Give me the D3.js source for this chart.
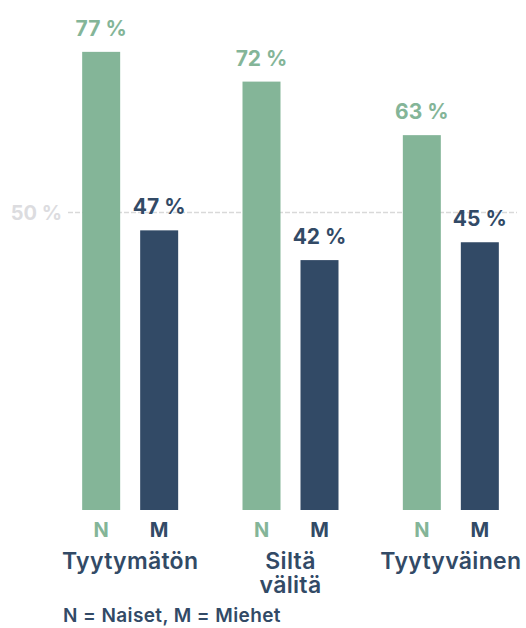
<!DOCTYPE html>
<html>
<head>
<meta charset="utf-8">
<script src="https://cdn.jsdelivr.net/npm/d3@7"></script>
<style>
  body { margin: 0; background: #fff; }
  text { font-family: Inter, "Open Sans", sans-serif; font-weight: 700; }
</style>
</head>
<body>
<div id="graph"></div>
<script>
// data
var categories = ["Tyytymätön", "Siltä välitä", "Tyytyväinen"];
var genders = ["N", "M"];
var naiset = [77, 72, 63];
var miehet = [47, 42, 45];
var refValue = 50;
var footnote = "N = Naiset, M = Miehet";

var width = 526, height = 628;
var green = "#84b598", navy = "#324a66";

var svg = d3.select("#graph")
  .append("svg")
    .attr("width", width)
    .attr("height", height);

var x = d3.scaleBand()
    .domain(categories)
    .range([50, 531]);

var sub = d3.scalePoint()
    .domain(genders)
    .range([-29, 29]);

var y = d3.scaleLinear()
    .domain([0, 100])
    .range([510, -85]);

var barW = 38;
var color = d3.scaleOrdinal().domain(genders).range([green, navy]);

// reference line
svg.append("line")
    .attr("x1", 68).attr("x2", 517)
    .attr("y1", y(refValue)).attr("y2", y(refValue))
    .attr("stroke", "#d9d9d9")
    .attr("stroke-width", 1.5)
    .attr("stroke-dasharray", "5,2");

svg.append("text")
    .attr("x", 62)
    .attr("y", y(refValue) + 7)
    .attr("text-anchor", "end")
    .style("font-size", "20px")
    .attr("fill", "#dcdcdf")
    .text(refValue + " %");

var rows = [];
categories.forEach(function(c, i) {
  rows.push({cat: c, g: "N", v: naiset[i]});
  rows.push({cat: c, g: "M", v: miehet[i]});
});

function cx(d) { return x(d.cat) + x.bandwidth() / 2 + sub(d.g); }

svg.selectAll(".bar")
  .data(rows)
  .enter().append("rect")
    .attr("class", "bar")
    .attr("x", d => cx(d) - barW / 2)
    .attr("width", barW)
    .attr("y", d => y(d.v))
    .attr("height", d => y(0) - y(d.v))
    .attr("fill", d => color(d.g));

svg.selectAll(".val")
  .data(rows)
  .enter().append("text")
    .attr("class", "val")
    .attr("x", d => cx(d))
    .attr("y", d => y(d.v) - 16)
    .attr("text-anchor", "middle")
    .style("font-size", "21px")
    .attr("fill", d => color(d.g))
    .text(d => d.v + " %");

svg.selectAll(".glab")
  .data(rows)
  .enter().append("text")
    .attr("class", "glab")
    .attr("x", d => cx(d))
    .attr("y", 537)
    .attr("text-anchor", "middle")
    .style("font-size", "20px")
    .attr("fill", d => color(d.g))
    .text(d => d.g);

var cl = svg.selectAll(".cat")
  .data(categories)
  .enter().append("text")
    .attr("class", "cat")
    .attr("x", d => x(d) + x.bandwidth() / 2)
    .attr("y", 569)
    .attr("text-anchor", "middle")
    .style("font-size", "23px")
    .style("font-weight", "600")
    .style("letter-spacing", "0.3px")
    .attr("fill", navy);

cl.each(function(d) {
  var t = d3.select(this);
  d.split(" ").forEach(function(w, i) {
    t.append("tspan")
      .attr("x", t.attr("x"))
      .attr("dy", i ? 24 : 0)
      .text(w);
  });
});

svg.append("text")
    .attr("x", 63)
    .attr("y", 622)
    .style("font-size", "19px")
    .style("font-weight", "600")
    .style("letter-spacing", "0.4px")
    .attr("fill", navy)
    .text(footnote);
</script>
</body>
</html>
